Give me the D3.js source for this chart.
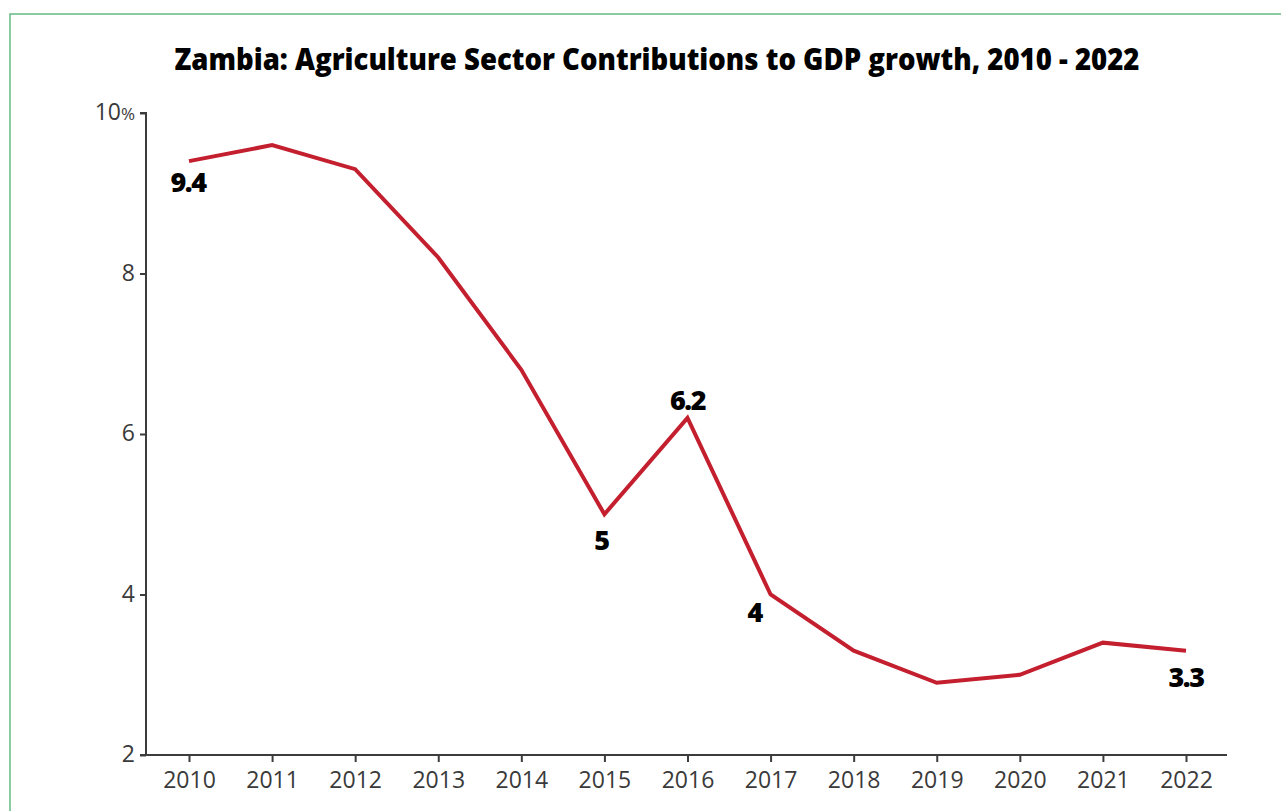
<!DOCTYPE html>
<html>
<head>
<meta charset="utf-8">
<script src="https://cdn.jsdelivr.net/npm/d3@7"></script>
<style>
  html, body { margin: 0; padding: 0; background: #fff; }
  svg { display: block; }
</style>
</head>
<body>
<svg id="chart" width="1281" height="811"></svg>
<script>
// ---- data ----
const years = [2010, 2011, 2012, 2013, 2014, 2015, 2016, 2017, 2018, 2019, 2020, 2021, 2022];
const growth = [9.4, 9.6, 9.3, 8.2, 6.8, 5.0, 6.2, 4.0, 3.3, 2.9, 3.0, 3.4, 3.3];
const yTicks = [2, 4, 6, 8, 10];
const labelYears = [2010, 2015, 2016, 2017, 2022];
const labelTexts = ["9.4", "5", "6.2", "4", "3.3"];
const labelPlacement = ["below", "below", "above", "belowLeft", "below"];
const title = "Zambia: Agriculture Sector Contributions to GDP growth, 2010 - 2022";

// ---- layout ----
const svg = d3.select("#chart");
const axisColor = "#3c3c3c";
const lineColor = "#c41f2e";

// border frame
svg.append("rect")
  .attr("x", 10).attr("y", 14)
  .attr("width", 1290).attr("height", 820)
  .attr("fill", "none")
  .attr("stroke", "#6dbf8a")
  .attr("stroke-width", 1.6);

// title
svg.append("text")
  .attr("x", 657).attr("y", 70)
  .attr("text-anchor", "middle")
  .attr("font-family", "'Open Sans', sans-serif")
  .attr("font-weight", 800)
  .attr("font-size", 30)
  .attr("textLength", 965)
  .attr("lengthAdjust", "spacingAndGlyphs")
  .attr("fill", "#000")
  .text(title);

const x = d3.scalePoint().domain(years).range([189, 1186]);
const y = d3.scaleLinear().domain([2, 10]).range([755, 113]);

// y axis
const yAxis = svg.append("g").attr("transform", "translate(146,0)")
  .call(d3.axisLeft(y).tickValues(yTicks).tickSize(6).tickPadding(5).tickFormat(d => d));
yAxis.select(".domain").attr("d", `M-6,${y(10)}H0V${y(2)}`)
  .attr("stroke", axisColor).attr("stroke-width", 2);
yAxis.selectAll(".tick line").attr("stroke", axisColor).attr("stroke-width", 2);
yAxis.selectAll(".tick text")
  .attr("font-family", "'Open Sans', sans-serif")
  .attr("font-size", 23)
  .attr("fill", "#3a3a3a")
  .attr("dy", "0.3em");
yAxis.selectAll(".tick text").filter(d => d === 10).each(function(d) {
  const t = d3.select(this);
  t.text(null);
  t.append("tspan").text(d);
  t.append("tspan").attr("font-size", 17).text("%");
});

// x axis
const xAxis = svg.append("g").attr("transform", `translate(0,${y(2)})`)
  .call(d3.axisBottom(x).tickSize(7).tickPadding(6).tickFormat(d => d));
xAxis.select(".domain").attr("d", "M140,0H1227")
  .attr("stroke", axisColor).attr("stroke-width", 2);
xAxis.selectAll(".tick line").attr("stroke", axisColor).attr("stroke-width", 2);
xAxis.selectAll(".tick text")
  .attr("font-family", "'Open Sans', sans-serif")
  .attr("font-size", 23)
  .attr("fill", "#3a3a3a")
  .attr("dy", "0.85em");

// line
const line = d3.line().x((d, i) => x(years[i])).y(d => y(d));
svg.append("path")
  .datum(growth)
  .attr("d", line)
  .attr("fill", "none")
  .attr("stroke", lineColor)
  .attr("stroke-width", 4)
  .attr("stroke-linejoin", "miter");

// data labels
const offsets = {
  below: [0, 31],
  above: [0, -8],
  belowLeft: [-16, 27]
};
svg.append("g").selectAll("text")
  .data(labelYears)
  .join("text")
  .attr("x", (d, i) => x(d) + offsets[labelPlacement[i]][0] - (labelPlacement[i] === "below" && labelTexts[i].length === 1 ? 3 : 0) - (i === 0 ? 1 : 0))
  .attr("y", (d, i) => y(growth[years.indexOf(d)]) + offsets[labelPlacement[i]][1] + (labelTexts[i].length === 1 && labelPlacement[i] === "below" ? 5 : 0) + (d === 2022 ? 5 : 0))
  .attr("text-anchor", "middle")
  .attr("font-family", "'Open Sans', sans-serif")
  .attr("font-weight", 800)
  .attr("font-size", 27)
  .attr("letter-spacing", -1.5)
  .attr("fill", "#000")
  .text((d, i) => labelTexts[i]);
</script>
</body>
</html>
